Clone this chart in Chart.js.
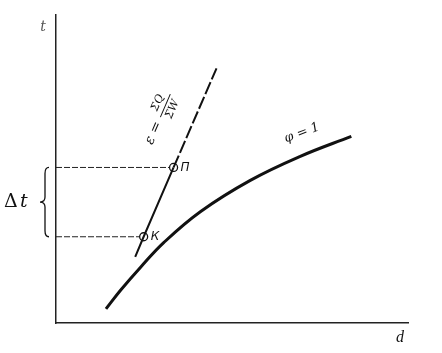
<!DOCTYPE html>
<html>
<head>
<meta charset="utf-8">
<script src="https://cdn.jsdelivr.net/npm/chart.js@4"></script>
<style>
  html, body { margin: 0; padding: 0; background: #fff; }
  #wrap { width: 442px; height: 353px; }
</style>
</head>
<body>
<div id="wrap"><canvas id="chart" width="442" height="353"></canvas></div>
<script>
// straight line eps = SumQ / SumW (bottom end, K, P, top end)
const lineX = [2.25, 2.49, 3.34, 4.56];
const lineY = [2.15, 2.80, 5.05, 8.27];
const pointNames = ['К', 'П'];
const pointIdx = [1, 2];

// curve phi = 1
const curveX = [1.42, 1.84, 2.41, 3.06, 4.11, 5.52, 6.94, 8.39];
const curveY = [0.46, 1.07, 1.82, 2.61, 3.62, 4.63, 5.41, 6.06];

const ink = '#111';

const lineData = lineX.map((x, i) => ({ x: x, y: lineY[i] }));
const curveData = curveX.map((x, i) => ({ x: x, y: curveY[i] }));
const markData = pointIdx.map(i => ({ x: lineX[i], y: lineY[i] }));

// dashed guides from the y axis to K and P
const guideSets = pointIdx.map(i => ({
  data: [{ x: 0, y: lineY[i] }, { x: lineX[i] - 0.12, y: lineY[i] }],
  borderColor: '#222',
  borderWidth: 1,
  borderDash: [6, 2],
  pointRadius: 0,
  showLine: true
}));

const labels = {
  id: 'labels',
  afterDatasetsDraw(chart) {
    const ctx = chart.ctx;
    const xs = chart.scales.x, ys = chart.scales.y;
    const px = v => xs.getPixelForValue(v);
    const py = v => ys.getPixelForValue(v);
    ctx.save();
    ctx.fillStyle = ink;
    ctx.strokeStyle = ink;

    // axis names
    ctx.font = 'italic 14px "DejaVu Serif"';
    ctx.fillStyle = '#555';
    ctx.textAlign = 'center';
    ctx.textBaseline = 'middle';
    ctx.fillText('t', 43, 27);
    ctx.fillStyle = ink;
    ctx.font = 'italic 16px "Liberation Serif"';
    ctx.fillText('d', 400, 338);

    // point names
    ctx.font = 'italic 12px "DejaVu Sans"';
    ctx.textAlign = 'left';
    pointIdx.forEach((i, k) => {
      ctx.fillText(pointNames[k], px(lineX[i]) + 7, py(lineY[i]));
    });

    // brace for delta t
    const yTop = py(lineY[2]), yBot = py(lineY[1]);
    const yMid = (yTop + yBot) / 2;
    ctx.lineWidth = 1.3;
    ctx.beginPath();
    ctx.moveTo(49, yTop);
    ctx.quadraticCurveTo(45, yTop, 45, yTop + 6);
    ctx.lineTo(45, yMid - 5);
    ctx.quadraticCurveTo(45, yMid, 40, yMid);
    ctx.quadraticCurveTo(45, yMid, 45, yMid + 5);
    ctx.lineTo(45, yBot - 6);
    ctx.quadraticCurveTo(45, yBot, 49, yBot);
    ctx.stroke();
    ctx.font = '19px "DejaVu Serif"';
    ctx.textAlign = 'left';
    ctx.fillText('Δ', 4, yMid);
    ctx.font = 'italic 19px "DejaVu Serif"';
    ctx.fillText('t', 20, yMid);

    // eps label along the straight line
    const ang = Math.atan2(py(lineY[3]) - py(lineY[0]), px(lineX[3]) - px(lineX[0]));
    ctx.translate(160, 118);
    ctx.rotate(ang);
    ctx.textAlign = 'left';
    ctx.textBaseline = 'middle';
    ctx.font = 'italic 14px "DejaVu Serif"';
    ctx.fillText('ε =', -28, 0);
    ctx.font = 'italic 11px "DejaVu Serif"';
    ctx.textAlign = 'center';
    ctx.fillText('ΣQ', 13, -8);
    ctx.fillText('ΣW', 13, 8);
    ctx.lineWidth = 1;
    ctx.beginPath();
    ctx.moveTo(1, 0);
    ctx.lineTo(26, 0);
    ctx.stroke();
    ctx.restore();

    // phi = 1 label
    ctx.save();
    ctx.fillStyle = ink;
    ctx.translate(302, 133);
    ctx.rotate(-0.36);
    ctx.font = 'italic 13px "DejaVu Serif"';
    ctx.textAlign = 'center';
    ctx.textBaseline = 'middle';
    ctx.fillText('φ = 1', 0, 0);
    ctx.restore();
  }
};

new Chart(document.getElementById('chart').getContext('2d'), {
  type: 'scatter',
  data: {
    datasets: [
      ...guideSets,
      {
        data: lineData,
        borderColor: ink,
        borderWidth: 2,
        pointRadius: 0,
        showLine: true,
        segment: {
          borderDash: c => c.p0DataIndex >= 2 ? [13, 3] : undefined
        }
      },
      {
        data: curveData,
        borderColor: ink,
        borderWidth: 3,
        pointRadius: 0,
        showLine: true,
        tension: 0.4
      },
      {
        data: markData,
        pointRadius: 4,
        pointBackgroundColor: '#fff',
        pointBorderColor: ink,
        pointBorderWidth: 1.3
      }
    ]
  },
  options: {
    responsive: false,
    devicePixelRatio: 1,
    animation: false,
    layout: { padding: { left: 48, right: 34, top: 15, bottom: 22 } },
    plugins: { legend: { display: false }, tooltip: { enabled: false } },
    scales: {
      x: {
        min: 0, max: 10,
        ticks: { display: false },
        grid: { display: false },
        border: { display: true, color: '#222', width: 1.5 }
      },
      y: {
        min: 0, max: 10,
        ticks: { display: false },
        grid: { display: false },
        border: { display: true, color: '#222', width: 1.5 }
      }
    }
  },
  plugins: [labels]
});
</script>
</body>
</html>
